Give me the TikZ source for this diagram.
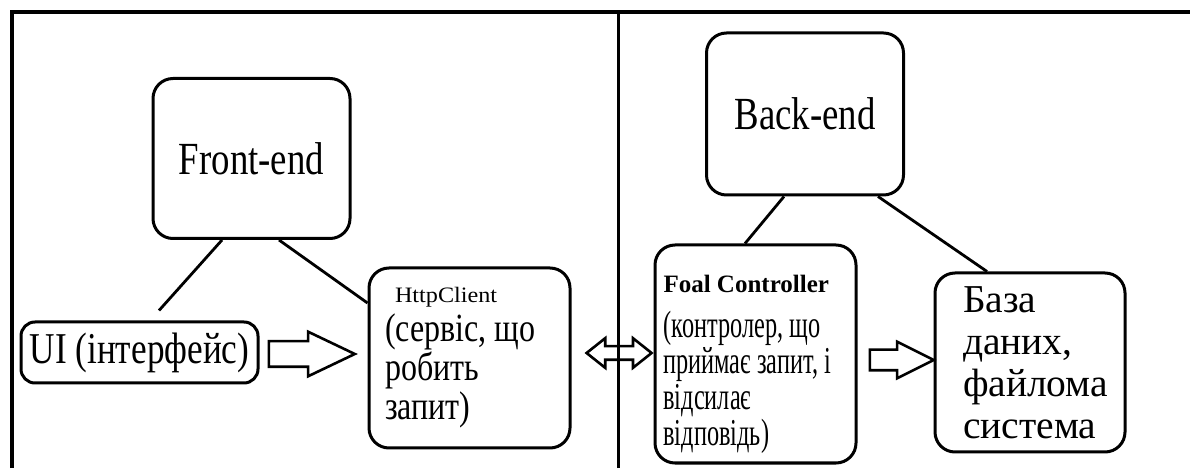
\documentclass[tikz,border=0pt]{standalone}
\usepackage{fontspec}
\setmainfont{Liberation Serif}
\newfontfamily\narrowserif[FakeStretch=0.8]{Liberation Serif}
\newfontfamily\tightserif[FakeStretch=0.64]{Liberation Serif}
\newfontfamily\wideserif[FakeStretch=1.1]{Liberation Serif}
\usetikzlibrary{positioning, shapes.arrows}

\begin{document}
\begin{tikzpicture}[x=1pt, y=1pt, on grid,
    box/.style={draw, line width=3pt, rounded corners=20pt, inner sep=0pt},
    tier/.style={box, minimum width=197pt, minimum height=160pt, font=\narrowserif\fontsize{46}{50}\selectfont},
    link/.style={line width=2.8pt},
    flow/.style={single arrow, draw, line width=2.6pt, inner xsep=0pt, single arrow head indent=0pt, anchor=west}]

  \useasboundingbox (0,0) rectangle (1190,468);

  % рамка і розділювач
  \draw[line width=4pt] (11.5,0) -- (11.5,455.5) -- (1190,455.5);
  \draw[line width=3pt] (618,0) -- (618,455.5);

  % клієнтська частина
  \node[box, rounded corners=14pt, minimum width=237pt, minimum height=61pt,
        font=\narrowserif\fontsize{44}{48}\selectfont] (ui) at (139.5,115.5) {UI (інтерфейс)};
  \node[tier] (front) [above right=194pt and 112pt of ui] {Front-end};
  \node[box, minimum width=201pt, minimum height=180pt, text width=169pt, align=flush left,
        font=\narrowserif\fontsize{40}{39}\selectfont] (http) [below right=5.5pt and 330pt of ui]
        {{\wideserif\fontsize{22}{26}\selectfont\hspace*{10pt}HttpClient}\\(сервіс, що\\робить\\запит)};

  % серверна частина
  \node[box, minimum width=201pt, minimum height=218pt, text width=184pt, align=flush left,
        font=\tightserif\fontsize{38}{36}\selectfont] (foal) [above right=4pt and 286pt of http]
        {\rule{0pt}{38pt}{\normalfont\bfseries\fontsize{25}{28}\selectfont Foal Controller}\\[9pt](контролер, що\\приймає запит, і\\відсилає\\відповідь)};
  \node[box, minimum width=190pt, minimum height=179pt, text width=134pt, align=flush left,
        font=\fontsize{39.5}{42}\selectfont] (db) [below right=8.5pt and 274.5pt of foal]
        {База\\даних,\\файлома\\система};
  \node[tier, minimum height=162pt] (back) [above right=240pt and 49.5pt of foal] {Back-end};

  % лінії
  \draw[link] ([xshift=-29.5pt]front.south) -- ([xshift=19.5pt, yshift=10pt]ui.north);
  \draw[link] ([xshift=27.5pt]front.south) -- ([yshift=55pt]http.west);
  \draw[link] ([xshift=-21pt]back.south) -- ([xshift=-10.5pt]foal.north);
  \draw[link] ([xshift=73pt]back.south) -- ([xshift=-43pt]db.north);

  % стрілки
  \node[flow, inner ysep=11.5pt, minimum height=86pt, single arrow head extend=9.5pt,
        single arrow tip angle=51] (tohttp) at ([xshift=8pt, yshift=-1.5pt]ui.east) {};
  \node[double arrow, draw, line width=2.6pt, inner xsep=0pt, inner ysep=5.5pt, double arrow head indent=0pt,
        minimum height=65pt, double arrow head extend=8pt,
        double arrow tip angle=77, anchor=west] (exchange) at ([xshift=13pt, yshift=5pt]http.east) {};
  \node[flow, inner ysep=9pt, minimum height=64pt, single arrow head extend=8pt,
        single arrow tip angle=53] (todb) at ([xshift=11pt, yshift=-6pt]foal.east) {};

\end{tikzpicture}
\end{document}
